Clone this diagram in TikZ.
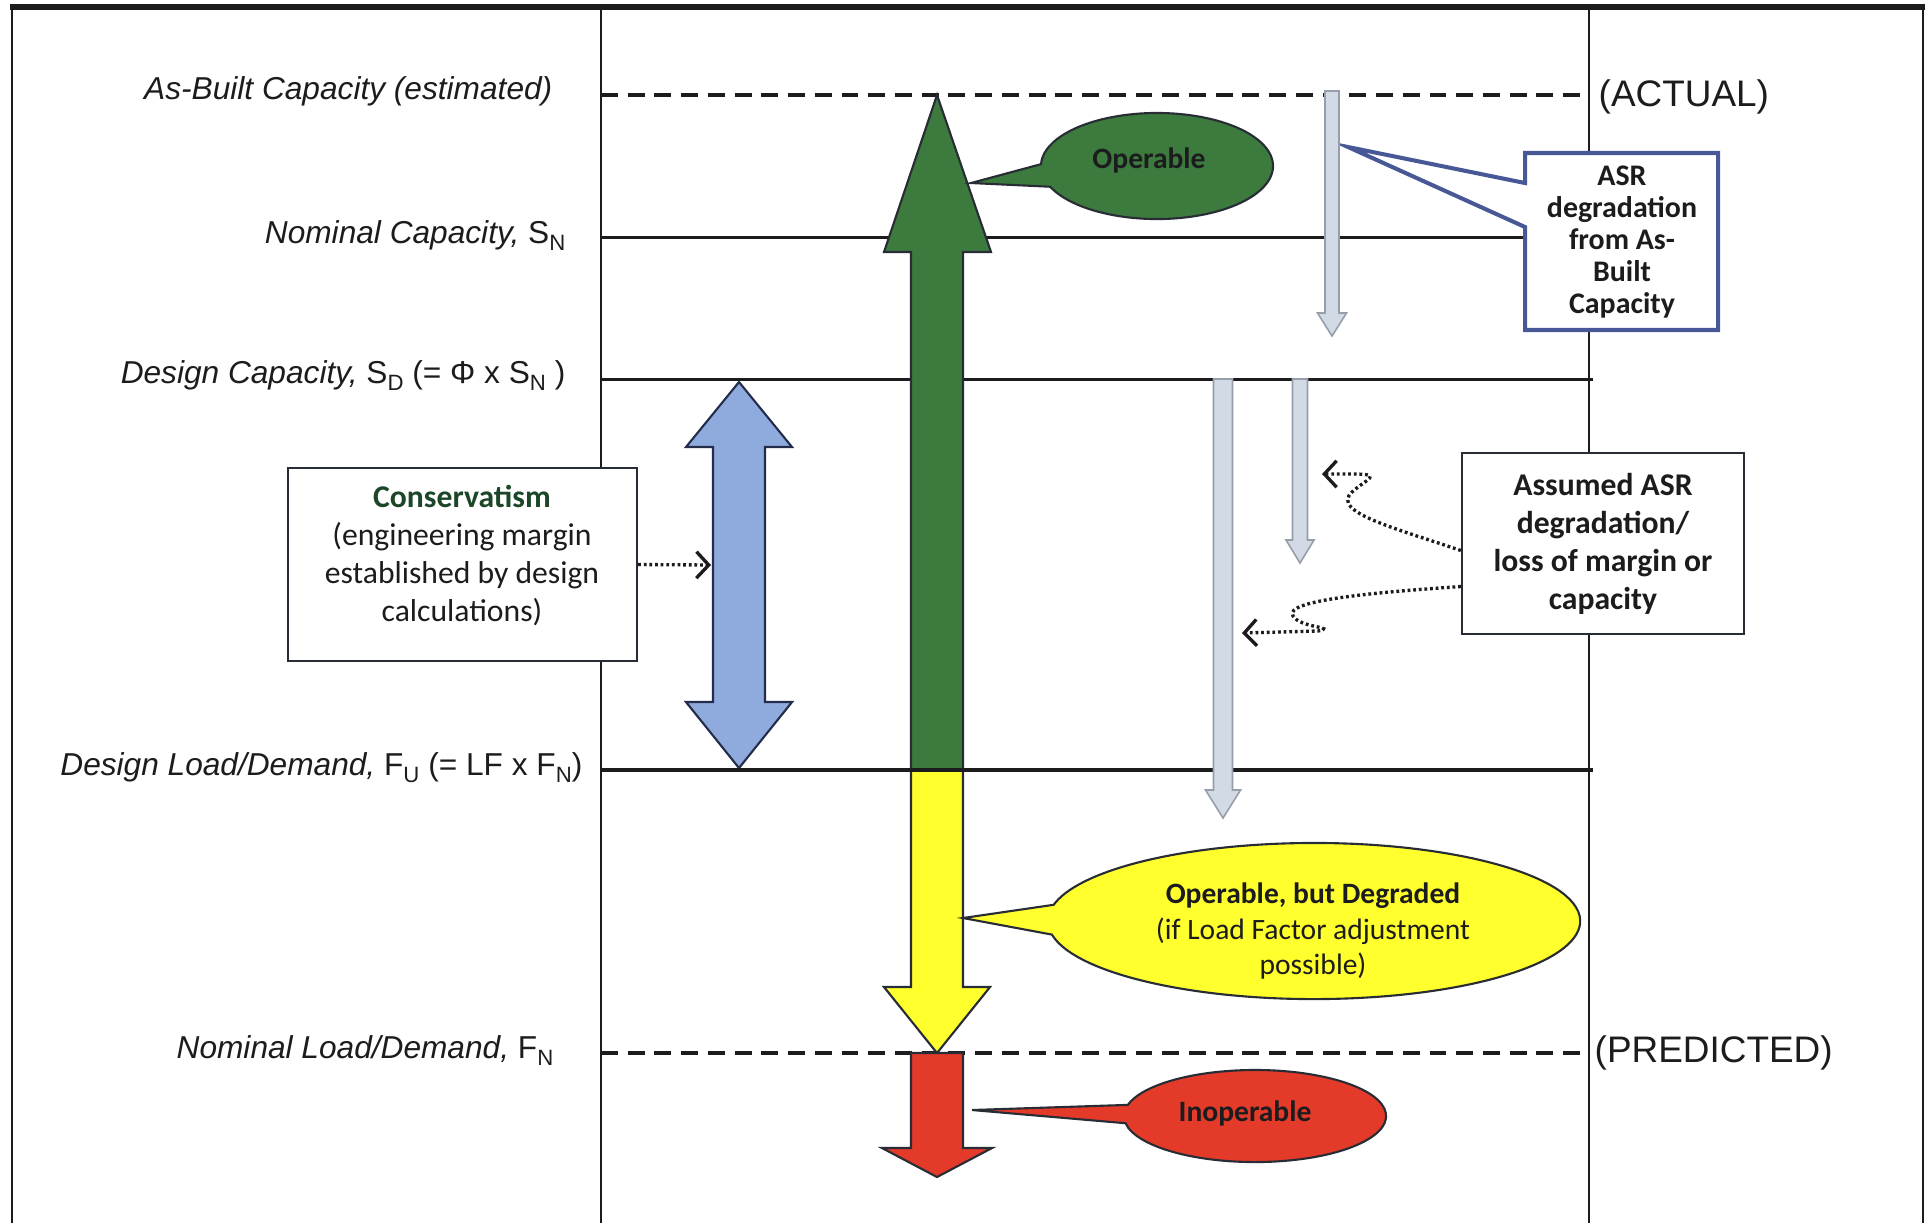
\documentclass[tikz,border=0pt]{standalone}
\usepackage{fontspec}
\setmainfont{Liberation Sans}
\newfontfamily\calfont{Carlito}
\usetikzlibrary{calc,arrows.meta}
\definecolor{txt}{RGB}{28,28,30}
\definecolor{outl}{RGB}{40,44,52}
\definecolor{opgreen}{RGB}{60,122,62}
\definecolor{opyellow}{RGB}{255,255,45}
\definecolor{opred}{RGB}{228,58,42}
\definecolor{consblue}{RGB}{143,170,220}
\definecolor{blueline}{RGB}{35,45,75}
\definecolor{grayfill}{RGB}{210,218,230}
\definecolor{grayline}{RGB}{150,158,170}
\definecolor{asrblue}{RGB}{72,88,150}
\definecolor{consgreen}{RGB}{28,70,40}
\newcommand\lowsub[1]{\raisebox{-0.45ex}{\fontsize{6.3}{7}\selectfont\upshape #1}}
\begin{document}
\begin{tikzpicture}[x=0.01cm,y=-0.01cm,
  lbl/.style={font=\fontsize{9}{11}\selectfont\itshape, text=txt, inner sep=0pt},
  tag/.style={font=\fontsize{10.5}{12}\selectfont, text=txt, inner sep=0pt},
  frameline/.style={line width=0.8pt, draw=txt},
  level/.style={line width=0.85pt, draw=txt},
  heavylevel/.style={line width=1.3pt, draw=txt},
  dashlevel/.style={line width=1.1pt, draw=txt, dash pattern=on 4.8pt off 2.8pt},
  blk/.style={line width=0.6pt, draw=outl},
  grayblk/.style={line width=0.45pt, draw=grayline, fill=grayfill},
  textbox/.style={draw=outl, line width=0.6pt, fill=white, inner sep=0pt, align=center, text=txt},
  bubble/.style={line width=0.6pt, draw=outl},
  bubbletext/.style={inner sep=0pt, align=center, text=txt},
  pointer/.style={line width=0.95pt, draw=txt, dash pattern=on 0.8pt off 0.8pt, -{Straight Barb[length=3.5pt,width=7.5pt]}},
]
\useasboundingbox (0,0) rectangle (1931,1223);
\fill[white] (0,0) rectangle (1931,1223);

% frame and columns
\draw[frameline] (12,1223) -- (12,7);
\draw[line width=1.5pt, draw=txt] (10,7) -- (1925,7);
\draw[frameline] (1923,7) -- (1923,1223);
\draw[frameline] (601,7) -- (601,1223);
\draw[frameline] (1589,7) -- (1589,1223);

% levels
\draw[dashlevel] (601,95) -- (1589,95);
\draw[level] (601,237) -- (1589,237);
\draw[level] (601,379) -- (1593,379);
\draw[dashlevel] (601,1053) -- (1589,1053);

% text boxes
\node[textbox, minimum width=3.49cm, minimum height=1.93cm] (cons) at (462.5,564.5) {};
\node[bubbletext, font=\calfont\fontsize{9}{10.8}\selectfont] (constext) at (462,556)
  {\textbf{\color{consgreen}Conservatism}\\(engineering margin\\established by design\\calculations)};
\node[textbox, minimum width=2.82cm, minimum height=1.81cm,
      font=\calfont\bfseries\fontsize{9}{10.8}\selectfont] (assumed) at (1603,543.5)
  {Assumed ASR\\degradation/\\loss of margin or\\capacity};

% ASR callout box
\draw[line width=1.15pt, draw=asrblue, fill=white]
  (1525,153) -- (1718,153) -- (1718,330) -- (1525,330) -- (1525,227)
  -- (1348,147) -- (1525,183) -- cycle;
\node[bubbletext, font=\calfont\bfseries\fontsize{8.5}{9.1}\selectfont] (asr) at (1622,242)
  {ASR\\degradation\\from As-\\Built\\Capacity};

% big coloured arrows
\draw[blk, draw=blueline, fill=consblue]
  (739,382) -- (792,447) -- (765,447) -- (765,702) -- (792,702) -- (739,768)
  -- (686,702) -- (713,702) -- (713,447) -- (686,447) -- cycle;
\draw[blk, fill=opgreen]
  (911,770) -- (911,252) -- (884,252) -- (937,95) -- (991,252) -- (963,252) -- (963,770) -- cycle;
\draw[blk, fill=opyellow]
  (911,770) -- (963,770) -- (963,987) -- (990,987) -- (937,1053) -- (884,987) -- (911,987) -- cycle;
\draw[blk, fill=opred]
  (911,1053) -- (963,1053) -- (963,1148) -- (992,1148) -- (937,1177) -- (882,1148) -- (911,1148) -- cycle;

\draw[heavylevel] (601,770) -- (1593,770);

% grey degradation arrows
\draw[grayblk] (1325,91) -- (1339,91) -- (1339,313) -- (1346.5,313) -- (1332,336) -- (1317.5,313) -- (1325,313) -- cycle;
\draw[grayblk] (1213.5,379) -- (1232.5,379) -- (1232.5,790) -- (1240.5,790) -- (1223,818) -- (1205.5,790) -- (1213.5,790) -- cycle;
\draw[grayblk] (1292.5,379) -- (1307.5,379) -- (1307.5,540) -- (1314,540) -- (1300,563) -- (1286,540) -- (1292.5,540) -- cycle;

% speech bubbles
\coordinate (ceg) at (1157,166);
\draw[bubble, fill=opgreen] (971,183) -- ($(ceg)+(203:1.16cm and 0.53cm)$)
  arc[start angle=203, end angle=538, x radius=1.16cm, y radius=0.53cm] -- cycle;
\node[bubbletext, font=\calfont\bfseries\fontsize{8.4}{10}\selectfont] (operable) at (1149,160) {Operable};

\coordinate (cey) at (1314,921);
\draw[bubble, fill=opyellow] (963,918) -- ($(cey)+(190:2.66cm and 0.78cm)$)
  arc[start angle=190, end angle=528, x radius=2.66cm, y radius=0.78cm] -- cycle;
\node[bubbletext, font=\calfont\fontsize{8.4}{10.2}\selectfont] (degraded) at (1313,931)
  {\textbf{Operable, but Degraded}\\(if Load Factor adjustment\\possible)};

\coordinate (cer) at (1255,1116);
\draw[bubble, fill=opred] (972,1110) -- ($(cer)+(189:1.31cm and 0.46cm)$)
  arc[start angle=189, end angle=526, x radius=1.31cm, y radius=0.46cm] -- cycle;
\node[bubbletext, font=\calfont\bfseries\fontsize{8.4}{10}\selectfont] (inoperable) at (1245,1113) {Inoperable};

% dotted pointers
\coordinate (consTip) at (711,565);
\draw[pointer] (cons.east) -- (consTip);
\coordinate (sqTipA) at (1322,474);
\draw[pointer] ($(assumed.west)+(0,7)$) .. controls (1395,528) and (1330,512) .. (1352,492)
  .. controls (1366,479) and (1385,474) .. (1352,474) -- (sqTipA);
\coordinate (sqTipB) at (1242,633);
\draw[pointer] ($(assumed.west)+(0,43)$) .. controls (1380,592) and (1282,600) .. (1293,616)
  .. controls (1300,628) and (1338,627) .. (1318,631) -- (sqTipB);

% level labels
\node[lbl, anchor=base east] (asbuilt) at (553,99) {As-Built Capacity (estimated)};
\node[lbl, anchor=base east] (nomcap) at (566,243) {Nominal Capacity, {\upshape S\lowsub{N}}};
\node[lbl, anchor=base east] (descap) at (566,383) {Design Capacity, {\upshape S\lowsub{D} (= Φ x S\lowsub{N} )}};
\node[lbl, anchor=base east] (desload) at (583,775) {Design Load/Demand, {\upshape F\lowsub{U} (= LF x F\lowsub{N})}};
\node[lbl, anchor=base east] (nomload) at (554,1058) {Nominal Load/Demand, {\upshape F\lowsub{N}}};
\node[tag, anchor=base west] (actual) at (1598,106) {(ACTUAL)};
\node[tag, anchor=base west] (predicted) at (1594,1062) {(PREDICTED)};
\end{tikzpicture}
\end{document}
